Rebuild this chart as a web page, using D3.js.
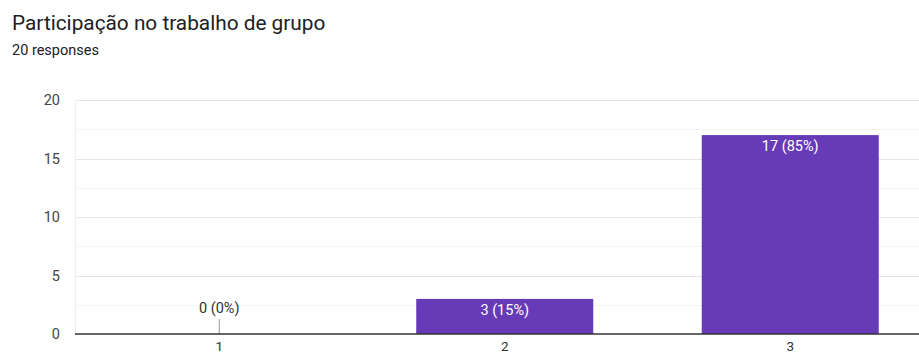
<!DOCTYPE html>
<html>
<head>
<meta charset="utf-8">
<script src="https://cdn.jsdelivr.net/npm/d3@7"></script>
<style>
  html, body { margin: 0; padding: 0; background: #fff; overflow: hidden; }
  svg { display: block; font-family: Roboto, "Noto Sans", Arial, sans-serif; }
</style>
</head>
<body>
<svg id="chart" width="919" height="356"></svg>
<script>
const title = "Participação no trabalho de grupo";
const subtitle = "20 responses";
const categories = ["1", "2", "3"];
const counts = [0, 3, 17];
const total = 20;
const yTicks = [0, 5, 10, 15, 20];
const yMinorTicks = [2.5, 7.5, 12.5, 17.5];

const svg = d3.select("#chart");
const plotLeft = 75;
const bandStart = 76.5, bandEnd = 933;
const width = 919;

const x = d3.scaleBand()
  .domain(categories)
  .range([bandStart, bandEnd])
  .paddingInner(0.38)
  .paddingOuter(0.19);

const y = d3.scaleLinear()
  .domain([0, 20])
  .range([334, 100]);

// Title block
svg.append("text")
  .attr("x", 12).attr("y", 30)
  .attr("font-size", 20.8).attr("fill", "#202124")
  .text(title);
svg.append("text")
  .attr("x", 12).attr("y", 55)
  .attr("font-size", 14.5).attr("fill", "#202124")
  .text(subtitle);

// Minor gridlines
svg.append("g").selectAll("line").data(yMinorTicks).join("line")
  .attr("x1", plotLeft).attr("x2", width)
  .attr("y1", d => Math.round(y(d)) + 0.5).attr("y2", d => Math.round(y(d)) + 0.5)
  .attr("stroke", "#f3f3f3").attr("stroke-width", 1);

// Major gridlines + y tick labels
const yAxis = d3.axisLeft(y).tickValues(yTicks).tickSize(0).tickPadding(15);
const gy = svg.append("g")
  .attr("transform", `translate(${plotLeft},0)`)
  .call(yAxis);
gy.select(".domain").remove();
gy.selectAll("text").attr("font-size", 14.5).attr("fill", "#444").attr("font-family", "Roboto, Arial, sans-serif");
svg.append("g").selectAll("line").data(yTicks.filter(d => d > 0)).join("line")
  .attr("x1", plotLeft).attr("x2", width)
  .attr("y1", d => Math.round(y(d)) + 0.5).attr("y2", d => Math.round(y(d)) + 0.5)
  .attr("stroke", "#e6e6e6").attr("stroke-width", 1);
// left edge of plot area
svg.append("line")
  .attr("x1", plotLeft + 0.5).attr("x2", plotLeft + 0.5)
  .attr("y1", y(20)).attr("y2", y(0))
  .attr("stroke", "#eeeeee");

// Bars
svg.append("g").selectAll("rect").data(counts).join("rect")
  .attr("x", (d, i) => x(categories[i]))
  .attr("width", x.bandwidth())
  .attr("y", d => y(d))
  .attr("height", d => y(0) - y(d))
  .attr("fill", "#673ab7");

// Marker for empty category
counts.forEach((d, i) => {
  if (d === 0) {
    const cx = x(categories[i]) + x.bandwidth() / 2;
    svg.append("line")
      .attr("x1", cx).attr("x2", cx)
      .attr("y1", y(0) - 15).attr("y2", y(0))
      .attr("stroke", "#999").attr("stroke-width", 1);
  }
});

// Baseline axis
svg.append("line")
  .attr("x1", plotLeft).attr("x2", width)
  .attr("y1", y(0)).attr("y2", y(0))
  .attr("stroke", "#333").attr("stroke-width", 1.5);

// Value labels
svg.append("g").selectAll("text").data(counts).join("text")
  .attr("x", (d, i) => x(categories[i]) + x.bandwidth() / 2)
  .attr("y", d => d === 0 ? y(0) - 21 : y(d) + 16)
  .attr("text-anchor", "middle")
  .attr("font-size", 14.5)
  .attr("fill", d => d === 0 ? "#333" : "#fff")
  .text(d => `${d} (${Math.round(d / total * 100)}%)`);

// X tick labels
svg.append("g").selectAll("text").data(categories).join("text")
  .attr("x", d => x(d) + x.bandwidth() / 2)
  .attr("y", 351)
  .attr("text-anchor", "middle")
  .attr("font-size", 13.5)
  .attr("fill", "#333")
  .text(d => d);
</script>
</body>
</html>
